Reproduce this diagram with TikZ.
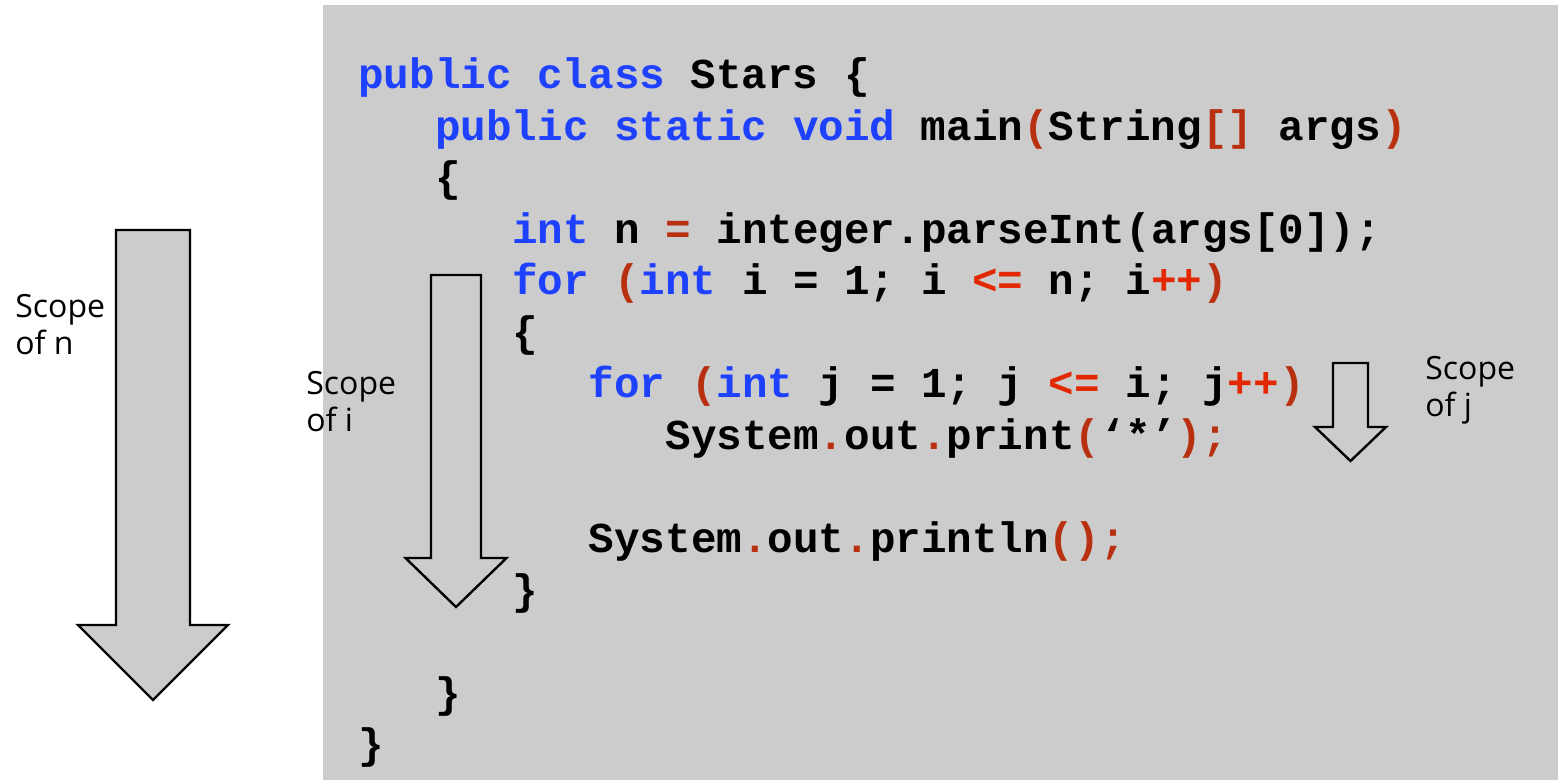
\documentclass[tikz,border=0pt]{standalone}
\usepackage{fontspec}
\usepackage{xcolor}
\setmainfont{Open Sans}
\newfontfamily\codefont{Liberation Mono}
\definecolor{panelgray}{RGB}{204,204,204}
\definecolor{kwblue}{RGB}{30,64,255}
\definecolor{pncbrown}{RGB}{184,48,16}
\definecolor{oprred}{RGB}{226,40,0}
% colouring of the java tokens
\newcommand{\kwd}[1]{\textcolor{kwblue}{#1}}
\newcommand{\pnc}[1]{\textcolor{pncbrown}{#1}}
\newcommand{\opr}[1]{\textcolor{oprred}{#1}}
% block arrow: style, centre x, top, shaft end, tip, half shaft, half head
\newcommand{\scopearrow}[7]{%
  \draw[#1] ({#2-#6},#3) -- ({#2+#6},#3) -- ({#2+#6},#4) -- ({#2+#7},#4)
    -- (#2,#5) -- ({#2-#7},#4) -- ({#2-#6},#4) -- cycle;}

\begin{document}
\begin{tikzpicture}[
    x=0.5pt, y=-0.5pt,
    code/.style={anchor=base west, inner sep=0pt, font=\codefont\bfseries\fontsize{21.3}{26}\selectfont},
    scopelabel/.style={anchor=base west, align=left, inner sep=0pt, font=\fontsize{16}{18.5}\selectfont},
    bigarrow/.style={draw=black, line width=1.2pt, fill=panelgray, line join=miter}
]
\useasboundingbox (0,0) rectangle (1558,780);
\fill[panelgray] (323,5) rectangle (1558,780);

% scope arrows
\scopearrow{bigarrow}{153}{230}{625}{700}{37}{75}
\scopearrow{bigarrow}{456}{275}{558}{607}{25}{50.5}
\scopearrow{bigarrow, fill=none}{1350.5}{363}{427}{461}{17.5}{35.5}

% labels sit on the baseline of their second line
\node[scopelabel] (scopen) at (15,355) {Scope\\of n};
\node[scopelabel] (scopei) at (306,432) {Scope\\of i};
\node[scopelabel] (scopej) at (1425,417) {Scope\\of j};

% the program, one node per line (column = 25.6)
\node[code] (ln1) at (358,89) {\kwd{public class} Stars \{};
\node[code] (ln2) at ({358+3*25.6},140.5) {\kwd{public static void} main\pnc{(}String\pnc{[]} args\pnc{)}};
\node[code] (ln3) at ({358+3*25.6},192) {\{};
\node[code] (ln4) at ({358+6*25.6},243.5) {\kwd{int} n \pnc{=} integer.parseInt(args[0]);};
\node[code] (ln5) at ({358+6*25.6},295) {\kwd{for} \pnc{(}\kwd{int} i = 1; i \opr{<=} n; i\opr{++}\pnc{)}};
\node[code] (ln6) at ({358+6*25.6},346.5) {\{};
\node[code] (ln7) at ({358+9*25.6},398) {\kwd{for} \pnc{(}\kwd{int} j = 1; j \opr{<=} i; j\opr{++}\pnc{)}};
\node[code] (ln8) at ({358+12*25.6},449.5) {System\pnc{.}out\pnc{.}print\pnc{(}‘*’\pnc{);}};
\node[code] (ln9) at ({358+9*25.6},552.5) {System\pnc{.}out\pnc{.}println\pnc{();}};
\node[code] (ln10) at ({358+6*25.6},604) {\}};
\node[code] (ln11) at ({358+3*25.6},707) {\}};
\node[code] (ln12) at (358,758.5) {\}};

\end{tikzpicture}
\end{document}
